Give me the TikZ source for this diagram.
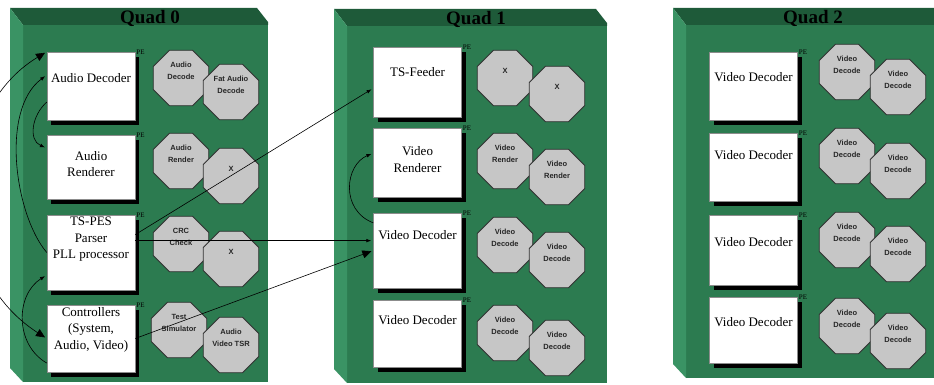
\documentclass[tikz,border=0pt]{standalone}
\usepackage{fontspec}
\setmainfont{Liberation Serif}
\setsansfont{Liberation Sans}
\usetikzlibrary{arrows.meta,shapes.geometric,shadows,calc}
\definecolor{quadface}{HTML}{2C7B50}
\definecolor{quadtop}{HTML}{1E5A39}
\definecolor{quadside}{HTML}{3A9364}
\definecolor{octfill}{HTML}{C6C6C6}

\begin{document}
\begin{tikzpicture}[x=1pt, y=-1pt,
    unit/.style={draw=black!45, fill=white, line width=0.5pt, minimum width=88pt, inner sep=0pt,
      drop shadow={shadow xshift=4pt, shadow yshift=-5pt, fill=black, opacity=1}},
    txt/.style={font=\fontsize{13}{16.5}\selectfont, align=center, inner sep=0pt},
    octa/.style={regular polygon, regular polygon sides=8, draw=black!80, fill=octfill,
      line width=0.9pt, minimum size=60pt, inner sep=0pt},
    otxt/.style={font=\sffamily\bfseries\fontsize{7.5}{11.5}\selectfont, align=center, inner sep=0pt, text=black!85},
    pe/.style={font=\fontsize{7}{7}\selectfont, anchor=west, inner sep=1pt},
    quadtitle/.style={font=\bfseries\fontsize{19}{20}\selectfont, anchor=base},
    link/.style={black, line width=0.6pt, shorten >=2pt},
    tip/.style={-{Latex[length=5pt]}},
    bigtip/.style={-{Triangle[length=9pt,width=8pt]}},
  ]
  \useasboundingbox (0,0) rectangle (934,385);
  \clip (0,0) rectangle (934,385);

  % the three quads
  \foreach \xl/\xr/\yt/\yb/\tx/\q in {10/268/8/382/150/0, 334/607/9/383/476/1, 673/946/8/378/813/2}{
    \fill[quadface] ({\xl+13},{\yt+16}) rectangle (\xr,\yb);
    \fill[quadtop] (\xl,\yt) -- ({\xr-11},\yt) -- (\xr,{\yt+14}) -- (\xr,{\yt+17}) -- ({\xl+13},{\yt+17}) -- cycle;
    \fill[quadside] (\xl,\yt) -- ({\xl+13},{\yt+17}) -- ({\xl+13},\yb) -- (\xl,{\yb-14}) -- cycle;
    \node[quadtitle] (quad\q) at (\tx,{\yt+16}) {Quad \q};
  }

  % Quad 0
  \node[unit, minimum height=68pt, label={[txt, name=ad-t, yshift=8pt]center:Audio Decoder}] (ad) at (91,86) {};
  \node[unit, minimum height=64pt, label={[txt, name=ar-t, yshift=3pt]center:Audio\\Renderer}] (ar) at (91,167) {};
  \node[unit, minimum height=75pt, label={[txt, name=tsp-t, yshift=13pt]center:TS-PES\\Parser\\PLL processor}] (tsp) at (91,252.5) {};
  \node[unit, minimum height=67pt, label={[txt, name=ctl-t, yshift=9pt]center:Controllers\\(System,\\Audio, Video)}] (ctl) at (91,338.5) {};
  % Quad 1
  \node[unit, minimum height=70pt, label={[txt, name=tsf-t, yshift=10pt]center:TS-Feeder}] (tsf) at (417.5,82) {};
  \node[unit, minimum height=69pt, label={[txt, name=vr-t, yshift=3pt]center:Video\\Renderer}] (vr) at (417.5,162.5) {};
  \node[unit, minimum height=75pt, label={[txt, name=vda-t, yshift=15pt]center:Video Decoder}] (vda) at (417.5,250.5) {};
  \node[unit, minimum height=67pt, label={[txt, name=vdb-t, yshift=13pt]center:Video Decoder}] (vdb) at (417.5,333.5) {};
  % Quad 2
  \node[unit, minimum height=68pt, label={[txt, name=qa-t, yshift=9pt]center:Video Decoder}] (qa) at (753.5,86) {};
  \node[unit, minimum height=68pt, label={[txt, name=qb-t, yshift=12pt]center:Video Decoder}] (qb) at (753.5,167) {};
  \node[unit, minimum height=70pt, label={[txt, name=qc-t, yshift=8pt]center:Video Decoder}] (qc) at (753.5,250) {};
  \node[unit, minimum height=66pt, label={[txt, name=qd-t, yshift=8pt]center:Video Decoder}] (qd) at (753.5,330) {};

  \foreach \b in {ad,ar,tsp,ctl,tsf,vr,vda,vdb,qa,qb,qc,qd}
    \node[pe] (pe-\b) at (\b.north east) {PE};

  % tasks
  \foreach \x/\y/\lab [count=\i] in {181/78/Audio\\Decode, 231/92/Fat Audio\\Decode,
      181/161/Audio\\Render, 231/176/X, 181/244/CRC\\Check, 231/259/X,
      179/330/Test\\Simulator, 231/345/Audio\\Video TSR,
      505/78/X, 557/94/X, 505/161/Video\\Render, 557/177/Video\\Render,
      505/245/Video\\Decode, 557/260/Video\\Decode, 505/333/Video\\Decode, 557/348/Video\\Decode,
      847/72/Video\\Decode, 898/87/Video\\Decode, 847/156/Video\\Decode, 898/171/Video\\Decode,
      847/240/Video\\Decode, 898/254/Video\\Decode, 847/326/Video\\Decode, 898/341/Video\\Decode}{
    \node[octa, label={[otxt, name=o\i-t, yshift=7pt]center:\lab}] (o\i) at (\x,\y) {};
  }

  % links
  \draw[link, shorten <=2pt, {Triangle[length=9pt,width=8pt]}-{Triangle[length=9pt,width=8pt]}]
    (ad.north west) .. controls (-50,110) and (-60,270) .. (ctl.west);
  \draw[link, tip] (tsp.west) .. controls (15,215) and (0,110) .. (ad.166);
  \draw[link, tip] (ad.200) .. controls (32,115) and (28,140) .. (ar.157);
  \draw[link, tip] (ctl.209) .. controls (15,345) and (15,295) .. (tsp.207);
  \draw[link, tip] (tsp.22) -- (tsf.188);
  \draw[link, tip] (tsp.15) -- (tsp.15 -| vda.west);
  \draw[link, bigtip] (ctl.east) -- (vda.west);
  \draw[link, tip] (vda.148) .. controls (340,210) and (345,165) .. (vr.168);
\end{tikzpicture}
\end{document}
